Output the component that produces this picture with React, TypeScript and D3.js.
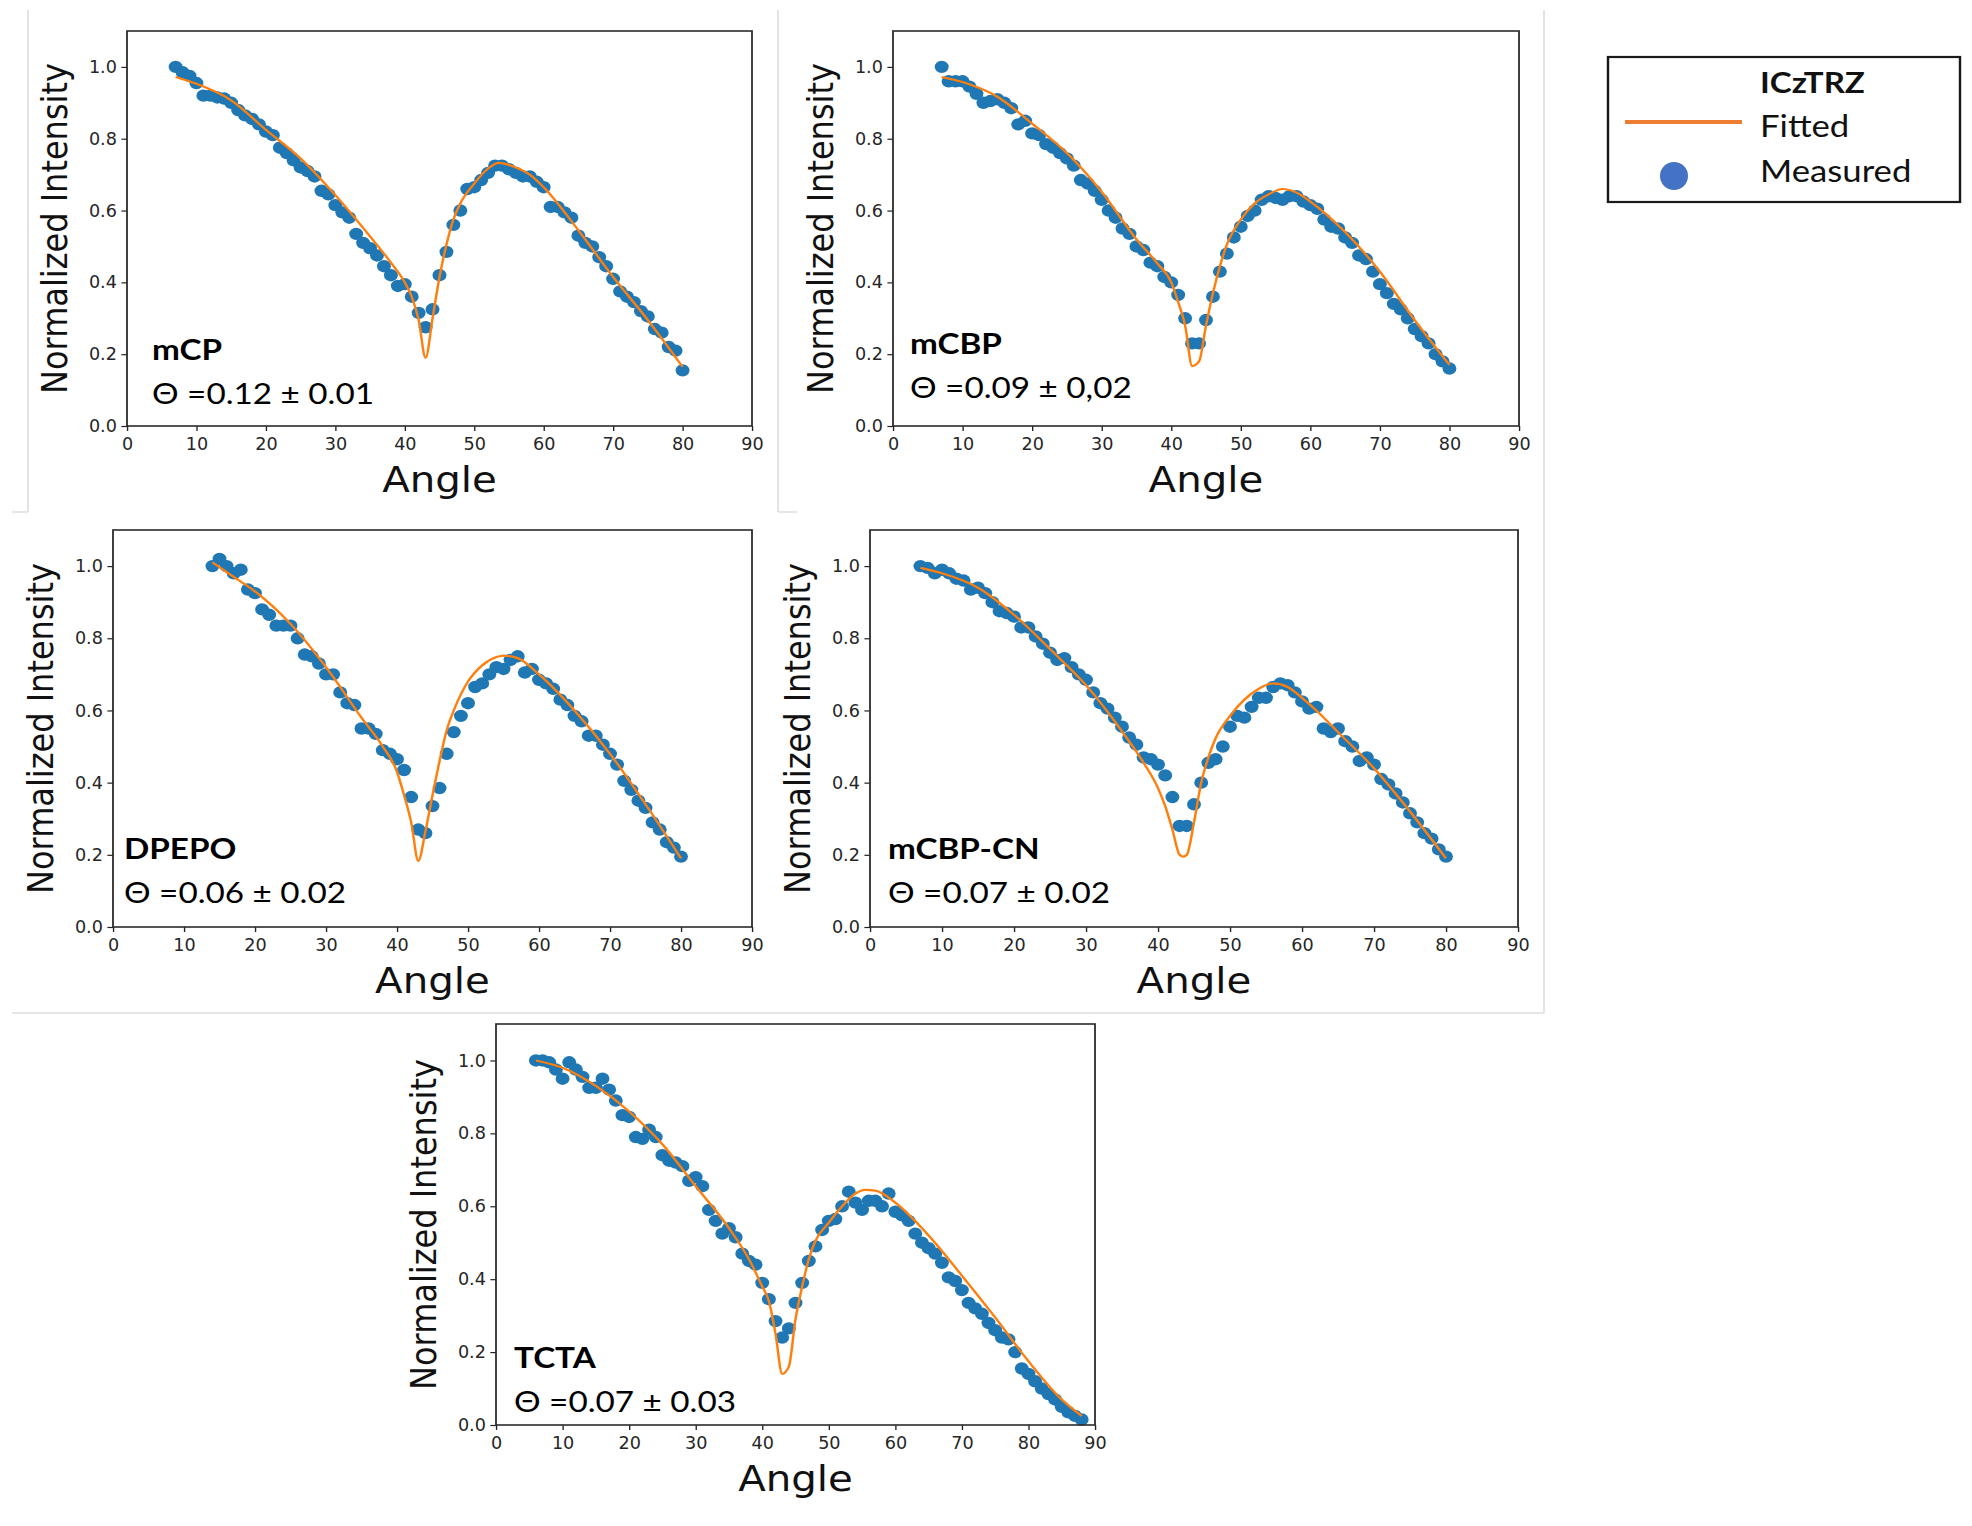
import * as d3 from 'd3'
import { useEffect, useRef } from 'react'

// the whole slide looks horizontally stretched, so draw in a narrower box and stretch it
const SX = 1.12
const W = 1972
const H = 1526

const angles7to80 = [
  7, 8, 9, 10, 11, 12, 13, 14, 15, 16, 17, 18, 19, 20, 21, 22, 23, 24, 25, 26,
  27, 28, 29, 30, 31, 32, 33, 34, 35, 36, 37, 38, 39, 40, 41, 42, 43, 44, 45, 46,
  47, 48, 49, 50, 51, 52, 53, 54, 55, 56, 57, 58, 59, 60, 61, 62, 63, 64, 65, 66,
  67, 68, 69, 70, 71, 72, 73, 74, 75, 76, 77, 78, 79, 80,
]
const angles14to80 = [
  14, 15, 16, 17, 18, 19, 20, 21, 22, 23, 24, 25, 26, 27, 28, 29, 30, 31, 32, 33,
  34, 35, 36, 37, 38, 39, 40, 41, 42, 43, 44, 45, 46, 47, 48, 49, 50, 51, 52, 53,
  54, 55, 56, 57, 58, 59, 60, 61, 62, 63, 64, 65, 66, 67, 68, 69, 70, 71, 72, 73,
  74, 75, 76, 77, 78, 79, 80,
]
const angles6to88 = [
  6, 7, 8, 9, 10, 11, 12, 13, 14, 15, 16, 17, 18, 19, 20, 21, 22, 23, 24, 25,
  26, 27, 28, 29, 30, 31, 32, 33, 34, 35, 36, 37, 38, 39, 40, 41, 42, 43, 44, 45,
  46, 47, 48, 49, 50, 51, 52, 53, 54, 55, 56, 57, 58, 59, 60, 61, 62, 63, 64, 65,
  66, 67, 68, 69, 70, 71, 72, 73, 74, 75, 76, 77, 78, 79, 80, 81, 82, 83, 84, 85,
  86, 87, 88,
]

const mcpMeasured = [
  1.0, 0.985, 0.975, 0.955, 0.92, 0.92, 0.915, 0.912, 0.9, 0.88,
  0.865, 0.855, 0.84, 0.82, 0.81, 0.775, 0.76, 0.74, 0.72, 0.71,
  0.695, 0.655, 0.645, 0.615, 0.595, 0.58, 0.535, 0.51, 0.495, 0.475,
  0.445, 0.42, 0.39, 0.395, 0.36, 0.315, 0.275, 0.325, 0.42, 0.485,
  0.56, 0.6, 0.66, 0.665, 0.685, 0.705, 0.725, 0.725, 0.715, 0.705,
  0.695, 0.695, 0.68, 0.665, 0.61, 0.61, 0.595, 0.58, 0.53, 0.51,
  0.5, 0.47, 0.445, 0.41, 0.375, 0.36, 0.345, 0.32, 0.305, 0.27,
  0.26, 0.22, 0.21, 0.155,
]
const mcpFitAngle = [7, 10, 15, 20, 25, 30, 35, 38, 40, 41, 42, 43, 44, 45, 46, 47, 48, 50, 52, 53.5, 56, 58, 60, 65, 70, 75, 80]
const mcpFitted = [0.972, 0.953, 0.907, 0.825, 0.745, 0.643, 0.528, 0.455, 0.4, 0.36, 0.295, 0.19, 0.3, 0.415, 0.505, 0.575, 0.62, 0.675, 0.717, 0.733, 0.72, 0.7, 0.665, 0.545, 0.415, 0.295, 0.165]

const mcbpMeasured = [
  1.0, 0.96, 0.96, 0.96, 0.945, 0.925, 0.9, 0.905, 0.91, 0.9,
  0.885, 0.84, 0.85, 0.815, 0.81, 0.785, 0.775, 0.76, 0.745, 0.725,
  0.685, 0.675, 0.655, 0.63, 0.6, 0.58, 0.55, 0.535, 0.5, 0.49,
  0.455, 0.445, 0.415, 0.4, 0.365, 0.3, 0.23, 0.23, 0.295, 0.36,
  0.43, 0.48, 0.525, 0.555, 0.585, 0.6, 0.63, 0.64, 0.635, 0.63,
  0.64, 0.64, 0.625, 0.615, 0.605, 0.575, 0.555, 0.55, 0.525, 0.51,
  0.475, 0.465, 0.43, 0.395, 0.37, 0.34, 0.325, 0.3, 0.27, 0.25,
  0.23, 0.2, 0.18, 0.16,
]
const mcbpFitAngle = [7, 10, 15, 20, 25, 30, 35, 38, 40, 41, 42, 43, 44, 45, 46, 47, 48, 50, 52, 54, 56, 58, 60, 65, 70, 75, 80]
const mcbpFitted = [0.972, 0.958, 0.917, 0.842, 0.76, 0.652, 0.52, 0.453, 0.4, 0.345, 0.28, 0.167, 0.18, 0.28, 0.37, 0.445, 0.505, 0.575, 0.62, 0.645, 0.66, 0.65, 0.625, 0.54, 0.43, 0.295, 0.17]

const dpepoMeasured = [
  1.0, 1.02, 1.0, 0.98, 0.99, 0.935, 0.925, 0.88, 0.865, 0.835,
  0.835, 0.835, 0.8, 0.755, 0.75, 0.73, 0.7, 0.7, 0.65, 0.62,
  0.615, 0.55, 0.55, 0.535, 0.49, 0.48, 0.465, 0.435, 0.36, 0.27,
  0.26, 0.335, 0.385, 0.48, 0.54, 0.585, 0.62, 0.665, 0.675, 0.7,
  0.72, 0.715, 0.74, 0.75, 0.705, 0.715, 0.685, 0.675, 0.66, 0.63,
  0.615, 0.585, 0.57, 0.53, 0.53, 0.505, 0.48, 0.45, 0.405, 0.38,
  0.35, 0.33, 0.29, 0.27, 0.235, 0.22, 0.195,
]
const dpepoFitAngle = [14, 17, 20, 25, 30, 35, 38, 40, 41, 42, 43, 44, 45, 46, 47, 48, 50, 52, 54, 55, 57, 60, 65, 70, 75, 80]
const dpepoFitted = [1.01, 0.97, 0.93, 0.84, 0.72, 0.58, 0.5, 0.43, 0.365, 0.29, 0.183, 0.265, 0.365, 0.46, 0.545, 0.6, 0.68, 0.725, 0.748, 0.752, 0.745, 0.7, 0.6, 0.48, 0.34, 0.19]

const mcbpcnMeasured = [
  1.0, 0.995, 0.98, 0.99, 0.98, 0.965, 0.96, 0.935, 0.94, 0.925,
  0.9, 0.875, 0.87, 0.86, 0.83, 0.83, 0.805, 0.785, 0.76, 0.74,
  0.745, 0.72, 0.7, 0.685, 0.65, 0.62, 0.605, 0.58, 0.555, 0.525,
  0.505, 0.47, 0.465, 0.45, 0.42, 0.36, 0.28, 0.28, 0.34, 0.4,
  0.455, 0.465, 0.5, 0.555, 0.585, 0.58, 0.61, 0.635, 0.635, 0.665,
  0.675, 0.67, 0.65, 0.625, 0.605, 0.61, 0.55, 0.54, 0.55, 0.515,
  0.5, 0.46, 0.47, 0.45, 0.41, 0.395, 0.37, 0.345, 0.315, 0.29,
  0.26, 0.245, 0.215, 0.195,
]
const mcbpcnFitAngle = [7, 10, 15, 20, 25, 30, 35, 38, 40, 41, 42, 43, 43.5, 44, 45, 46, 47, 48, 50, 52, 54, 56, 58, 60, 62, 65, 70, 75, 80]
const mcbpcnFitted = [0.995, 0.98, 0.94, 0.865, 0.77, 0.67, 0.542, 0.455, 0.385, 0.335, 0.27, 0.2, 0.195, 0.2, 0.29, 0.4, 0.47, 0.523, 0.585, 0.63, 0.66, 0.675, 0.665, 0.635, 0.6, 0.54, 0.44, 0.32, 0.19]

const tctaMeasured = [
  1.0, 1.0, 0.995, 0.975, 0.95, 0.995, 0.975, 0.955, 0.925, 0.925,
  0.95, 0.92, 0.89, 0.85, 0.845, 0.79, 0.785, 0.81, 0.79, 0.74,
  0.725, 0.72, 0.71, 0.67, 0.68, 0.655, 0.59, 0.56, 0.525, 0.54,
  0.515, 0.47, 0.45, 0.44, 0.39, 0.345, 0.285, 0.24, 0.265, 0.335,
  0.39, 0.45, 0.49, 0.535, 0.56, 0.565, 0.6, 0.64, 0.61, 0.59,
  0.615, 0.615, 0.6, 0.635, 0.585, 0.575, 0.56, 0.525, 0.5, 0.485,
  0.47, 0.445, 0.405, 0.395, 0.37, 0.335, 0.32, 0.305, 0.28, 0.26,
  0.24, 0.235, 0.2, 0.155, 0.14, 0.12, 0.1, 0.085, 0.07, 0.05,
  0.035, 0.025, 0.015,
]
const tctaFitAngle = [6, 10, 15, 20, 25, 30, 35, 38, 40, 41, 42, 43, 44, 45, 46, 47, 48, 50, 52, 54, 55.5, 57, 60, 65, 70, 75, 80, 85, 88]
const tctaFitted = [1.0, 0.98, 0.93, 0.86, 0.77, 0.655, 0.54, 0.455, 0.38, 0.34, 0.25, 0.14, 0.16, 0.29, 0.38, 0.455, 0.505, 0.555, 0.6, 0.635, 0.645, 0.643, 0.61, 0.52, 0.41, 0.295, 0.175, 0.07, 0.025]

const hosts = ['mCP', 'mCBP', 'DPEPO', 'mCBP-CN', 'TCTA']
const thetas = ['Θ =0.12 ± 0.01', 'Θ =0.09 ± 0,02', 'Θ =0.06 ± 0.02', 'Θ =0.07 ± 0.02', 'Θ =0.07 ± 0.03']
const xTicks = [0, 10, 20, 30, 40, 50, 60, 70, 80, 90]
const yTicks = [0, 0.2, 0.4, 0.6, 0.8, 1.0]

const series = [
  { angle: angles7to80, measured: mcpMeasured, fitAngle: mcpFitAngle, fitted: mcpFitted },
  { angle: angles7to80, measured: mcbpMeasured, fitAngle: mcbpFitAngle, fitted: mcbpFitted },
  { angle: angles14to80, measured: dpepoMeasured, fitAngle: dpepoFitAngle, fitted: dpepoFitted },
  { angle: angles7to80, measured: mcbpcnMeasured, fitAngle: mcbpcnFitAngle, fitted: mcbpcnFitted },
  { angle: angles6to88, measured: tctaMeasured, fitAngle: tctaFitAngle, fitted: tctaFitted },
]

// frames in page pixels, plus where the host / theta notes sit
const frames = [
  { left: 127, right: 752, top: 31, bottom: 426, dx: 25, nameY: -66, thetaY: -22 },
  { left: 893, right: 1519, top: 31, bottom: 426, dx: 17, nameY: -72, thetaY: -28 },
  { left: 113, right: 752, top: 530, bottom: 927, dx: 11, nameY: -68, thetaY: -24 },
  { left: 870, right: 1518, top: 530, bottom: 927, dx: 18, nameY: -68, thetaY: -24 },
  { left: 496, right: 1095, top: 1024, bottom: 1425, dx: 18, nameY: -57, thetaY: -13 },
]

const BLUE = '#1f77b4'
const ORANGE = '#ff7f0e'
const MPL_FONT = 'DejaVu Sans, sans-serif'
const TICK_FONT = 'DejaVu Sans Condensed, DejaVu Sans, sans-serif'
const NOTE_FONT = 'Lato, Open Sans, sans-serif'

export default function App() {
  const ref = useRef<SVGSVGElement | null>(null)

  useEffect(() => {
    if (!ref.current) return
    const svg = d3.select(ref.current)
    svg.selectAll('*').remove()
    const vx = (px: number) => px / SX

    svg.append('rect').attr('width', W / SX).attr('height', H).attr('fill', '#fff')

    // faint edges of the pasted images
    const edges: [number, number, number, number][] = [
      [28, 10, 28, 512], [12, 512, 28, 512],
      [778, 10, 778, 512], [778, 512, 797, 512],
      [1544, 10, 1544, 1013], [12, 1013, 1544, 1013],
    ]
    svg.append('g').selectAll('line').data(edges).join('line')
      .attr('x1', d => vx(d[0])).attr('y1', d => d[1])
      .attr('x2', d => vx(d[2])).attr('y2', d => d[3])
      .attr('stroke', '#dedede').attr('stroke-width', 1.5)

    series.forEach((s, i) => {
      const f = frames[i]
      const x = d3.scaleLinear().domain([0, 90]).range([vx(f.left), vx(f.right)])
      const y = d3.scaleLinear().domain([0, 1.1]).range([f.bottom, f.top])
      const g = svg.append('g')

      g.append('g').selectAll('circle')
        .data(d3.zip(s.angle, s.measured))
        .join('circle')
        .attr('cx', d => x(d[0]))
        .attr('cy', d => y(d[1]))
        .attr('r', 6.2)
        .attr('fill', BLUE)

      const line = d3.line<number[]>()
        .x(d => x(d[0]))
        .y(d => y(d[1]))
        .curve(d3.curveMonotoneX)
      g.append('path')
        .datum(d3.zip(s.fitAngle, s.fitted))
        .attr('fill', 'none')
        .attr('stroke', ORANGE)
        .attr('stroke-width', 2.2)
        .attr('d', line)

      const xAxis = g.append('g')
        .attr('transform', `translate(0,${f.bottom})`)
        .call(d3.axisBottom(x).tickValues(xTicks).tickSize(5).tickPadding(7).tickFormat(d3.format('d')))
      const yAxis = g.append('g')
        .attr('transform', `translate(${vx(f.left)},0)`)
        .call(d3.axisLeft(y).tickValues(yTicks).tickSize(5).tickPadding(4).tickFormat(d3.format('.1f')))
      for (const ax of [xAxis, yAxis]) {
        ax.select('.domain').remove()
        ax.attr('font-family', TICK_FONT).attr('font-size', 17.5)
        ax.selectAll('line').attr('stroke', '#222').attr('stroke-width', 1.2)
        ax.selectAll('text').attr('fill', '#262626')
      }

      g.append('rect')
        .attr('x', vx(f.left))
        .attr('y', f.top)
        .attr('width', vx(f.right) - vx(f.left))
        .attr('height', f.bottom - f.top)
        .attr('fill', 'none')
        .attr('stroke', '#2b2b2b')
        .attr('stroke-width', 1.6)

      g.append('text')
        .attr('transform', `translate(${vx(f.left - 60)},${(f.top + f.bottom) / 2}) rotate(-90)`)
        .attr('text-anchor', 'middle')
        .attr('font-family', MPL_FONT)
        .attr('font-size', 32)
        .attr('fill', '#111')
        .text('Normalized Intensity')

      g.append('text')
        .attr('x', (vx(f.left) + vx(f.right)) / 2)
        .attr('y', f.bottom + 66)
        .attr('text-anchor', 'middle')
        .attr('font-family', MPL_FONT)
        .attr('font-size', 36)
        .attr('fill', '#111')
        .text('Angle')

      g.append('text')
        .attr('transform', `translate(${vx(f.left + f.dx)},${f.bottom + f.nameY}) scale(1.06,1)`)
        .attr('font-family', NOTE_FONT)
        .attr('font-weight', 'bold')
        .attr('font-size', 28)
        .attr('fill', '#000')
        .text(hosts[i])

      g.append('text')
        .attr('transform', `translate(${vx(f.left + f.dx)},${f.bottom + f.thetaY}) scale(1.06,1)`)
        .attr('font-family', NOTE_FONT)
        .attr('font-size', 28)
        .attr('fill', '#000')
        .text(thetas[i])
    })

    // legend
    const lg = svg.append('g')
    lg.append('rect')
      .attr('x', vx(1608)).attr('y', 57)
      .attr('width', vx(1960) - vx(1608)).attr('height', 145)
      .attr('fill', '#fff').attr('stroke', '#1a1a1a').attr('stroke-width', 2.2)
    lg.append('line')
      .attr('x1', vx(1625)).attr('x2', vx(1742)).attr('y1', 122).attr('y2', 122)
      .attr('stroke', '#ed7d31').attr('stroke-width', 4)
    lg.append('ellipse')
      .attr('cx', vx(1674)).attr('cy', 176).attr('rx', 14 / SX).attr('ry', 14)
      .attr('fill', '#4472c4')
    const legendText: [string, number, string, number][] = [
      ['ICzTRZ', 93, 'bold', 29.5],
      ['Fitted', 137, 'normal', 31],
      ['Measured', 182, 'normal', 31],
    ]
    lg.selectAll('text').data(legendText).join('text')
      .attr('x', vx(1760))
      .attr('y', d => d[1])
      .attr('font-family', NOTE_FONT)
      .attr('font-size', d => d[3])
      .attr('font-weight', d => d[2])
      .attr('fill', '#111')
      .text(d => d[0])
  }, [])

  return (
    <svg
      ref={ref}
      width={W}
      height={H}
      viewBox={`0 0 ${W / SX} ${H}`}
      preserveAspectRatio="none"
      style={{ position: 'absolute', left: 0, top: 0, display: 'block' }}
    />
  )
}
